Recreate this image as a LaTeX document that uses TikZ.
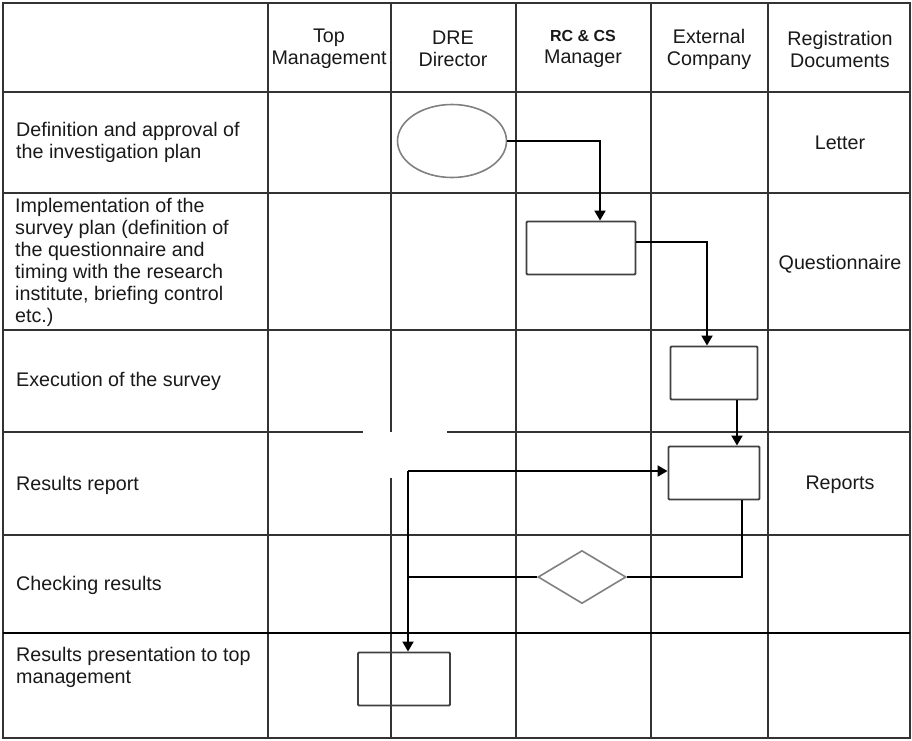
\documentclass[tikz,border=0pt]{standalone}
\usepackage{fontspec}
\setmainfont{Liberation Sans}
\usetikzlibrary{shapes.geometric,arrows.meta}

\begin{document}
\begin{tikzpicture}[x=1pt,y=-1pt,>={Triangle[length=10pt,width=11pt]},
  tabline/.style={draw=black!80,line width=1.5pt},
  lbl/.style={font=\fontsize{19.7}{22}\selectfont,text=black!90,inner sep=0pt,align=left,anchor=west},
  hd/.style={font=\fontsize{19.7}{22}\selectfont,text=black!90,inner sep=0pt,align=center},
  box/.style={draw=black!75,line width=1.9pt,rounded corners=1pt,minimum width=#1,minimum height=53pt,inner sep=0pt},
  oval/.style={ellipse,draw=black!50,line width=1.6pt,minimum width=109pt,minimum height=73pt,inner sep=0pt},
  choice/.style={diamond,draw=black!50,line width=1.6pt,minimum width=88pt,minimum height=53pt,inner sep=0pt},
  flow/.style={->,line width=1.9pt},
  link/.style={line width=1.9pt}]
  \useasboundingbox (0,0) rectangle (912,740);
  \draw[tabline] (3,3) rectangle (910,738);
  \foreach \x in {268,516,651,768} \draw[tabline] (\x,3) -- (\x,738);
  \draw[tabline] (391,3) -- (391,432) (391,478) -- (391,738);
  \foreach \y in {92,193,330,535} \draw[tabline] (3,\y) -- (910,\y);
  \draw[tabline] (3,432) -- (363,432) (447,432) -- (910,432);
  \draw[tabline,draw=black,line width=2.6pt] (3,633) -- (910,633);

  \node[hd] at (329,49) (topm) {Top\\Management};
  \node[hd] at (453,49) (dre) {DRE\\Director};
  \node[hd] at (583,49) (rccs) {{\fontsize{16}{22}\selectfont\bfseries RC \& CS}\\Manager};
  \node[hd] at (709,49) (extc) {External\\Company};
  \node[hd] at (840,49) (regd) {Registration\\Documents};

  \node[lbl] at (16,142) (rdef) {Definition and approval of\\the investigation plan};
  \node[lbl] at (15,262) (rimpl) {Implementation of the\\survey plan (definition of\\the questionnaire and\\timing with the research\\institute, briefing control\\etc.)};
  \node[lbl] at (16,381) (rexec) {Execution of the survey};
  \node[lbl] at (16,485) (rrep) {Results report};
  \node[lbl] at (16,585) (rcheck) {Checking results};
  \node[lbl] at (16,667) (rpres) {Results presentation to top\\management};

  \node[hd] at (840,143) (letter) {Letter};
  \node[hd] at (840,264) (quest) {Questionnaire};
  \node[hd] at (840,485) (reps) {Reports};

  \node[oval] at (452,141) (start) {};
  \node[box=109pt] at (581,248) (plan) {};
  \node[box=87pt] at (714,373) (exec) {};
  \node[box=91pt] at (714,473) (report) {};
  \node[choice] at (582,577) (check) {};
  \node[box=92pt] at (404,679) (present) {};
  \coordinate (split) at (408,471);

  \draw[flow] (start.east) -| ([xshift=19pt]plan.north);
  \draw[flow] ([yshift=6pt]plan.east) -| ([xshift=-7pt]exec.north);
  \draw[flow] ([xshift=23pt]exec.south) -- ([xshift=23pt]report.north);
  \draw[link] ([xshift=28pt]report.south) |- (check.east);
  \draw[link] (check.west) -- (check.west -| split);
  \draw[flow] (split) -- (split -| report.west);
  \draw[flow] (split) -- (split |- present.north);
\end{tikzpicture}
\end{document}
